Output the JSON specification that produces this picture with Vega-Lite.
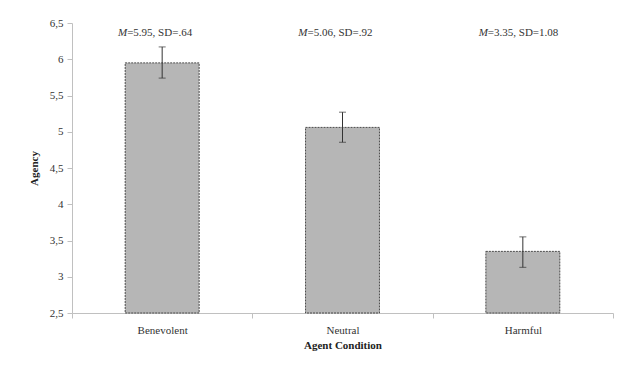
{
  "$schema": "https://vega.github.io/schema/vega-lite/v6.json",
  "width": 541,
  "height": 290,
  "autosize": {"type": "none"},
  "padding": {"left": 72, "top": 23, "right": 26, "bottom": 59},
  "background": "white",
  "config": {
    "view": {"stroke": null},
    "font": "Liberation Serif",
    "axis": {
      "domainColor": "#c0c0c0",
      "tickColor": "#c0c0c0",
      "labelColor": "#333333",
      "labelFont": "Liberation Serif",
      "labelFontSize": 11,
      "titleFont": "Liberation Serif",
      "titleFontSize": 11,
      "titleFontWeight": "bold",
      "titleColor": "#222222",
      "grid": false,
      "labelOverlap": false
    }
  },
  "data": {
    "values": [
      {"cond": "Benevolent", "mean": 5.95, "lo": 5.74, "hi": 6.17, "label": "=5.95, SD=.64"},
      {"cond": "Neutral", "mean": 5.06, "lo": 4.855, "hi": 5.27, "label": "=5.06, SD=.92"},
      {"cond": "Harmful", "mean": 3.35, "lo": 3.13, "hi": 3.55, "label": "=3.35, SD=1.08"}
    ]
  },
  "encoding": {
    "x": {
      "field": "cond",
      "type": "nominal",
      "sort": ["Benevolent", "Neutral", "Harmful"],
      "scale": {"paddingInner": 0, "paddingOuter": 0},
      "axis": {
        "title": "Agent Condition",
        "labelAngle": 0,
        "tickBand": "extent",
        "tickSize": 5,
        "labelPadding": 6,
        "titlePadding": 4
      }
    }
  },
  "layer": [
    {
      "mark": {"type": "bar", "width": {"band": 0.41}, "fill": "#b6b6b6", "stroke": "#4a4a4a", "strokeWidth": 1, "strokeDash": [2, 1]},
      "encoding": {
        "y": {
          "field": "mean",
          "type": "quantitative",
          "scale": {"domain": [2.5, 6.5], "nice": false, "zero": false},
          "axis": {
            "title": "Agency",
            "values": [2.5, 3, 3.5, 4, 4.5, 5, 5.5, 6, 6.5],
            "tickCount": 20,
            "labelExpr": "replace(toString(datum.value), '.', ',')",
            "tickSize": 5,
            "labelPadding": 4,
            "titlePadding": 10
          }
        },
        "y2": {"datum": 2.5}
      }
    },
    {
      "mark": {"type": "rule", "color": "#333333", "strokeWidth": 1},
      "encoding": {
        "y": {"field": "lo", "type": "quantitative"},
        "y2": {"field": "hi"}
      }
    },
    {
      "mark": {"type": "tick", "color": "#333333", "size": 7, "thickness": 1, "orient": "horizontal"},
      "encoding": {"y": {"field": "lo", "type": "quantitative"}}
    },
    {
      "mark": {"type": "tick", "color": "#333333", "size": 7, "thickness": 1, "orient": "horizontal"},
      "encoding": {"y": {"field": "hi", "type": "quantitative"}}
    },
    {
      "mark": {"type": "text", "align": "left", "baseline": "middle", "dx": -35, "fontSize": 11, "font": "Liberation Serif", "color": "#333333"},
      "encoding": {
        "y": {"datum": 6.36, "type": "quantitative"},
        "text": {"field": "label"}
      }
    },
    {
      "mark": {"type": "text", "align": "right", "baseline": "middle", "dx": -35, "fontSize": 11, "font": "Liberation Serif", "fontStyle": "italic", "color": "#333333"},
      "encoding": {
        "y": {"datum": 6.36, "type": "quantitative"},
        "text": {"value": "M"}
      }
    }
  ]
}
